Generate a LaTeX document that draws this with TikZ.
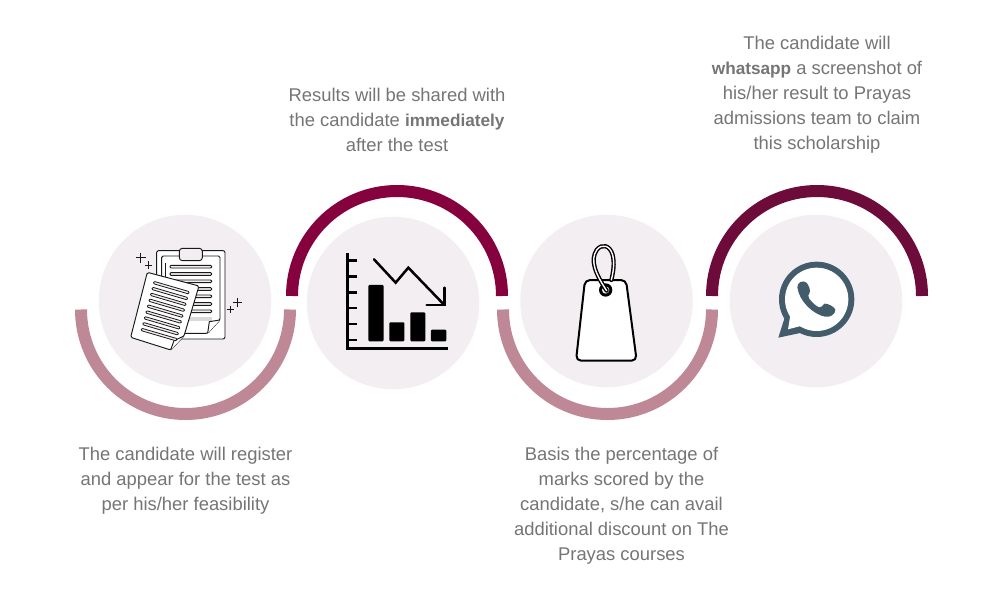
\documentclass[tikz,border=0pt]{standalone}
\usepackage{fontspec}
\setmainfont{Liberation Sans}
\definecolor{disc}{HTML}{F3EEF2}
\definecolor{pinkarc}{HTML}{BF8896}
\definecolor{wine}{HTML}{85023E}
\definecolor{darkwine}{HTML}{6D0B3A}
\definecolor{txt}{HTML}{757575}
\definecolor{wa}{HTML}{435C6B}
\newcommand{\bfpart}[1]{{\fontsize{17.2}{25}\selectfont\bfseries #1}}
\tikzset{
  disc/.style={circle,fill=disc,draw=none,minimum size=172.5pt,inner sep=0pt},
  label/.style={text=txt,align=center,font=\fontsize{18.4}{25}\selectfont,inner sep=0pt},
  arcline/.style={line width=12pt,line cap=butt},
  ink/.style={draw=black!90,line width=0.95pt,line join=round},
  zoomA/.style={shift={(70,210)},x=0.3333pt,y=-0.3333pt},
  zoomB/.style={shift={(285,180)},x=0.3333pt,y=-0.3333pt},
  zoomC/.style={shift={(540,230)},x=0.3333pt,y=-0.3333pt},
  zoomD/.style={shift={(760,245)},x=0.3333pt,y=-0.3333pt},
}
\begin{document}
\begin{tikzpicture}[x=1pt,y=-1pt]
\useasboundingbox (0,0) rectangle (1000,600);
\fill[white] (0,0) rectangle (1000,600);
% discs
\node[disc] (d1) at (185,301) {};
\node[disc] (d2) at (393,303) {};
\node[disc] (d3) at (606.5,301) {};
\node[disc] (d4) at (816,301) {};
% arcs
\draw[arcline,pinkarc] (81,309.5) arc[start angle=180,end angle=360,radius=104.5pt];
\draw[arcline,wine] (292,296) arc[start angle=180,end angle=0,radius=105pt];
\draw[arcline,pinkarc] (503,309.5) arc[start angle=180,end angle=360,radius=104.5pt];
\draw[arcline,darkwine] (712,296) arc[start angle=180,end angle=0,radius=105pt];
% clipboard icon
\begin{scope}[zoomA]
\draw[ink,fill=white,rounded corners=2pt] (260,122) rectangle (465,387);
\draw[ink,fill=white,rounded corners=1.5pt] (275,138) -- (450,138) -- (450,330) -- (413,370) -- (275,370) -- cycle;
\fill[black!15] (340,322) rectangle (425,332);
\draw[ink,fill=white] (413,370) -- (418,335) -- (450,330);
\draw[ink,fill=disc,rounded corners=3pt] (328,115) rectangle (397,152);
\foreach \yy in {170,192,214,237,259,282,304}
  \draw[ink,fill=disc,rounded corners=1pt] (300,\yy-4) rectangle (425,\yy+4);
\draw[ink] (285,160) -- (285,205);
\draw[ink,fill=white,rounded corners=1.5pt] (232,187) -- (387,228) -- (342,378) -- (302,420) -- (182,382) -- cycle;
\draw[ink,fill=white] (302,420) -- (312,392) -- (342,378);
\foreach \k in {0,...,8} {
  \draw[ink,fill=disc,line width=0.8pt,rounded corners=1pt]
    ({252-\k*4.6},{214+\k*17.6}) -- ({358-\k*4.6},{245+\k*17.6}) -- ({356-\k*4.6},{252+\k*17.6}) -- ({250-\k*4.6},{221+\k*17.6}) -- cycle;
}
\foreach \cx/\cy/\r in {212/143/15,236/165/11,503/277/14,481/298/11}
  \draw[ink] (\cx-\r,\cy) -- (\cx+\r,\cy) (\cx,\cy-\r) -- (\cx,\cy+\r);
\end{scope}
% chart icon
\begin{scope}[zoomB]
\draw[black,line width=2.5pt] (187,220) -- (187,510);
\draw[black,line width=2.5pt] (184,505) -- (490,505);
\foreach \yy in {242,289,337,384,432,480}
  \draw[black,line width=2.5pt] (187,\yy) -- (217,\yy);
\foreach \xa/\xb/\yy in {250/296/315,313/358/427,376/421/397,438/484/449}
  \fill[black,rounded corners=1pt] (\xa,\yy) rectangle (\xb,484);
\draw[black,line width=2.5pt,line cap=round,line join=miter] (267,238) -- (332,308) -- (370,263) -- (478,375);
\draw[black,line width=2.5pt,line cap=round,line join=miter] (478,323) -- (478,375) -- (425,375);
\end{scope}
% tag icon
\begin{scope}[zoomC]
\draw[black,line width=2pt,fill=white,rounded corners=5pt] (135,150) -- (258,150) -- (290,392) -- (108,392) -- cycle;
\fill[black] (197,180) circle[radius=20];
\fill[disc] (197,180) circle[radius=11];
\draw[black,line width=4.2pt,line cap=round] (200,182) .. controls (165,130) and (150,90) .. (170,60) .. controls (185,40) and (210,45) .. (218,75) .. controls (224,100) and (220,125) .. (214,150);
\draw[white,line width=1.4pt,line cap=round] (200,182) .. controls (165,130) and (150,90) .. (170,60) .. controls (185,40) and (210,45) .. (218,75) .. controls (224,100) and (220,125) .. (214,150);
\end{scope}
% whatsapp icon
\begin{scope}[zoomD]
\fill[wa] (170,163) circle[radius=113];
\fill[wa] (55,278) -- (78,205) -- (130,262) -- cycle;
\fill[white] (170,163) circle[radius=95];
\fill[white] (84,253) -- (92,205) -- (122,243) -- cycle;
\fill[wa] (112,127) .. controls (112,112) and (128,105) .. (138,112)
  .. controls (146,118) and (152,135) .. (149,143)
  .. controls (146,150) and (142,152) .. (147,160)
  .. controls (155,172) and (168,183) .. (177,187)
  .. controls (185,190) and (187,180) .. (193,176)
  .. controls (203,174) and (225,187) .. (226,194)
  .. controls (227,208) and (210,218) .. (195,215)
  .. controls (160,208) and (118,170) .. (112,127) -- cycle;
\end{scope}
% labels
\node[label] (t1) at (185.5,481) {The candidate will register\\and appear for the test as\\per his/her feasibility};
\node[label] (t2) at (397,120) {Results will be shared with\\the candidate \bfpart{immediately}\\after the test};
\node[label] (t3) at (621.5,506) {Basis the percentage of\\marks scored by the\\candidate, s/he can avail\\additional discount on The\\Prayas courses};
\node[label] (t4) at (817,94.5) {The candidate will\\\bfpart{whatsapp} a screenshot of\\his/her result to Prayas\\admissions team to claim\\this scholarship};
\end{tikzpicture}
\end{document}
